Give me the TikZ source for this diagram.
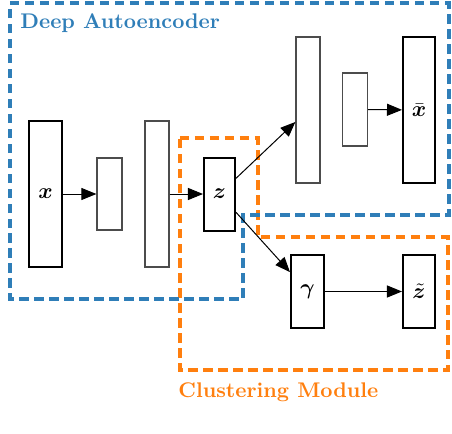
\documentclass[tikz,border=0pt]{standalone}
\usepackage{amsmath}
\usepackage{bm}
\usetikzlibrary{arrows.meta}
\definecolor{aeblue}{HTML}{2F7EB8}
\definecolor{cmorange}{HTML}{FF7F0E}
\begin{document}
\begin{tikzpicture}[x=0.5pt,y=-0.5pt,
  thinbox/.style={draw=black!70,line width=0.6pt,fill=white,inner sep=0pt},
  thickbox/.style={draw=black,line width=1pt,fill=white,inner sep=0pt,font=\fontsize{10.5}{12}\selectfont},
  conn/.style={line width=0.5pt,-{Triangle[length=7.5pt,width=6pt]}},
  region/.style={line width=1.9pt,dash pattern=on 4.75pt off 2.75pt},
  grouplabel/.style={anchor=west,inner sep=0pt,font=\fontsize{10.6}{12}\selectfont\bfseries}]
\useasboundingbox (0,0) rectangle (452,434);
% regions
\draw[region,cmorange] (180,138) -- (258,138) -- (258,237) -- (448,237) -- (448,370) -- (180,370) -- cycle;
\draw[region,aeblue] (10,3) -- (449,3) -- (449,215) -- (243,215) -- (243,299) -- (10,299) -- cycle;
\node[grouplabel,text=aeblue] (lae) at (20,23) {Deep Autoencoder};
\node[grouplabel,text=cmorange] (lcm) at (178,392) {Clustering Module};
% encoder
\node[thickbox,minimum width=16.5pt,minimum height=73pt] (x) at (45.5,194) {$\bm{x}$};
\node[thinbox,minimum width=12.5pt,minimum height=36pt] (e1) at (109.5,194) {};
\node[thinbox,minimum width=12pt,minimum height=73pt] (e2) at (157,194) {};
\node[thickbox,minimum width=15.5pt,minimum height=36.5pt] (z) at (219.5,194) {$\bm{z}$};
% decoder
\node[thinbox,minimum width=12pt,minimum height=73pt] (d1) at (308,110) {};
\node[thinbox,minimum width=12.5pt,minimum height=36.5pt] (d2) at (355,109.5) {};
\node[thickbox,minimum width=16pt,minimum height=73pt] (xb) at (419,110) {$\bar{\bm{x}}$};
% clustering
\node[thickbox,minimum width=16.5pt,minimum height=36.5pt] (g) at (307.5,291.5) {$\bm{\gamma}$};
\node[thickbox,minimum width=16pt,minimum height=36.5pt] (zt) at (419,291.5) {$\tilde{\bm{z}}$};
% connectors
\draw[conn] (x) -- (e1);
\draw[conn] (e2) -- (z);
\draw[conn] (z) -- (d1);
\draw[conn] (d2) -- (xb);
\draw[conn] (z) -- (g);
\draw[conn] (g) -- (zt);
\end{tikzpicture}
\end{document}
